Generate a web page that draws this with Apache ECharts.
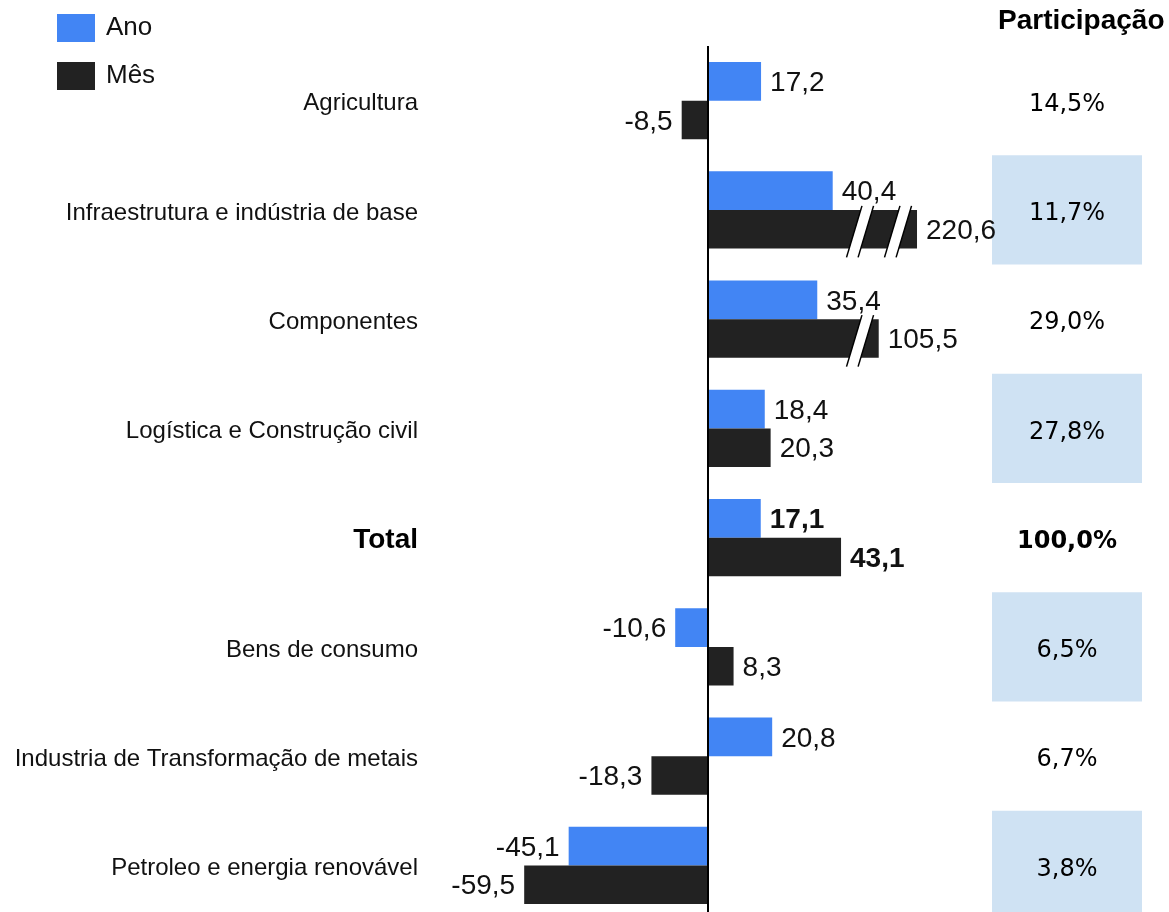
<!DOCTYPE html>
<html>
<head>
<meta charset="utf-8">
<script src="https://cdn.jsdelivr.net/npm/echarts@6/dist/echarts.min.js"></script>
<style>
  html, body { margin: 0; padding: 0; background: #fff; overflow: hidden; }
  #chart { width: 1169px; height: 920px; }
</style>
</head>
<body>
<div id="chart"></div>
<script>
// dados
var categorias = [
    'Agricultura',
    'Infraestrutura e indústria de base',
    'Componentes',
    'Logística e Construção civil',
    'Total',
    'Bens de consumo',
    'Industria de Transformação de metais',
    'Petroleo e energia renovável'
];
var ano = [17.2, 40.4, 35.4, 18.4, 17.1, -10.6, 20.8, -45.1];
var mes = [-8.5, 220.6, 105.5, 20.3, 43.1, 8.3, -18.3, -59.5];
// comprimento desenhado (barras com quebra de escala)
var mesVisivel = [-8.5, 67.7, 55.3, 20.3, 43.1, 8.3, -18.3, -59.5];
// posições das quebras: [valor, índice da categoria]
var quebras = [[49.2, 1], [61.5, 1], [49.2, 2]];
var participacao = [14.5, 11.7, 29.0, 27.8, 100.0, 6.5, 6.7, 3.8];

var fonte = 'Liberation Sans, Arial, sans-serif';
var fonte2 = 'DejaVu Sans, Verdana, sans-serif';

function fmt(v) {
    return v.toFixed(1).replace('.', ',');
}

function barData(vals) {
    return vals.map(function (v, i) {
        return {
            value: v,
            label: {
                position: v < 0 ? 'left' : 'right',
                fontWeight: categorias[i] === 'Total' ? 'bold' : 'normal'
            }
        };
    });
}

var option = {
    animation: false,
    title: {
        text: 'Participação',
        left: 993,
        top: 2,
        textStyle: { fontFamily: fonte, fontSize: 28, fontWeight: 'bold', color: '#000' }
    },
    legend: {
        data: ['Ano', 'Mês'],
        orient: 'vertical',
        left: 57,
        top: 14,
        padding: 0,
        itemWidth: 38,
        itemHeight: 28,
        itemGap: 20,
        icon: 'rect',
        textStyle: { fontFamily: fonte, fontSize: 26, color: '#111', padding: [0, 0, 0, 6] }
    },
    grid: [
        { left: 430, top: 46, width: 525, height: 874 },
        { left: 992, top: 46, width: 150, height: 874 }
    ],
    xAxis: [
        { type: 'value', min: -90, max: 80, show: false, splitLine: { show: false } },
        { type: 'value', gridIndex: 1, min: 0, max: 1, show: false }
    ],
    yAxis: [
        {
            type: 'category',
            data: categorias,
            inverse: true,
            axisLine: { show: false },
            axisTick: { show: false },
            axisLabel: {
                margin: 12,
                padding: [6, 0, 0, 0],
                fontFamily: fonte,
                fontSize: 24,
                color: '#111',
                formatter: function (v) {
                    return v === 'Total' ? '{b|' + v + '}' : v;
                },
                rich: { b: { fontFamily: fonte, fontSize: 28, fontWeight: 'bold', color: '#000' } }
            }
        },
        {
            type: 'category',
            gridIndex: 1,
            data: categorias,
            inverse: true,
            axisLine: { show: false },
            axisTick: { show: false },
            axisLabel: { show: false },
            splitArea: { show: true, areaStyle: { color: ['rgba(255,255,255,0)', '#cfe2f3'] } }
        }
    ],
    series: [
        {
            name: 'Ano',
            type: 'bar',
            data: barData(ano),
            barGap: 0,
            barCategoryGap: '29.5%',
            itemStyle: { color: '#4285f4' },
            label: {
                show: true,
                distance: 9,
                offset: [0, 2],
                fontFamily: fonte,
                fontSize: 28,
                color: '#111',
                formatter: function (p) { return fmt(ano[p.dataIndex]); }
            },
            markLine: {
                silent: true,
                symbol: ['none', 'none'],
                label: { show: false },
                lineStyle: { color: '#000', width: 2, type: 'solid' },
                data: [{ xAxis: 0 }]
            }
        },
        {
            name: 'Mês',
            type: 'bar',
            data: barData(mesVisivel),
            barGap: 0,
            barCategoryGap: '29.5%',
            itemStyle: { color: '#222222' },
            label: {
                show: true,
                distance: 9,
                offset: [0, 2],
                fontFamily: fonte,
                fontSize: 28,
                color: '#111',
                formatter: function (p) { return fmt(mes[p.dataIndex]); }
            }
        },
        {
            // marcas de quebra "//" nas barras longas
            type: 'custom',
            z: 5,
            silent: true,
            data: quebras,
            renderItem: function (params, api) {
                var c = api.coord([api.value(0), api.value(1)]);
                var band = api.size([0, 1])[1];
                var h = band * 0.705 / 2;
                var cy = c[1] + h / 2;
                var top = cy - h / 2 - 4, bot = cy + h / 2 + 9;
                var mid = cy + 3;
                var half = 5.8, s = 0.3;
                function px(x0, y) { return x0 + (mid - y) * s; }
                var x1 = c[0] - half, x2 = c[0] + half;
                return {
                    type: 'group',
                    children: [
                        {
                            type: 'polygon',
                            shape: { points: [[px(x1, top), top], [px(x2, top), top], [px(x2, bot), bot], [px(x1, bot), bot]] },
                            style: { fill: '#fff' }
                        },
                        {
                            type: 'line',
                            shape: { x1: px(x1, top), y1: top, x2: px(x1, bot), y2: bot },
                            style: { stroke: '#000', lineWidth: 1.5 }
                        },
                        {
                            type: 'line',
                            shape: { x1: px(x2, top), y1: top, x2: px(x2, bot), y2: bot },
                            style: { stroke: '#000', lineWidth: 1.5 }
                        }
                    ]
                };
            }
        },
        {
            name: 'Participação',
            type: 'scatter',
            xAxisIndex: 1,
            yAxisIndex: 1,
            symbolSize: 0,
            silent: true,
            itemStyle: { opacity: 1 },
            data: participacao.map(function (v, i) { return [0.5, i]; }),
            label: {
                show: true,
                position: 'inside',
                offset: [0, 4],
                fontFamily: fonte2,
                fontSize: 24,
                color: '#000',
                formatter: function (p) {
                    var t = fmt(participacao[p.dataIndex]) + '%';
                    return categorias[p.dataIndex] === 'Total' ? '{b|' + t + '}' : t;
                },
                rich: { b: { fontFamily: fonte2, fontSize: 24, fontWeight: 'bold', color: '#000' } }
            }
        }
    ]
};

var chart = echarts.init(document.getElementById('chart'));
chart.setOption(option, true);
</script>
</body>
</html>
